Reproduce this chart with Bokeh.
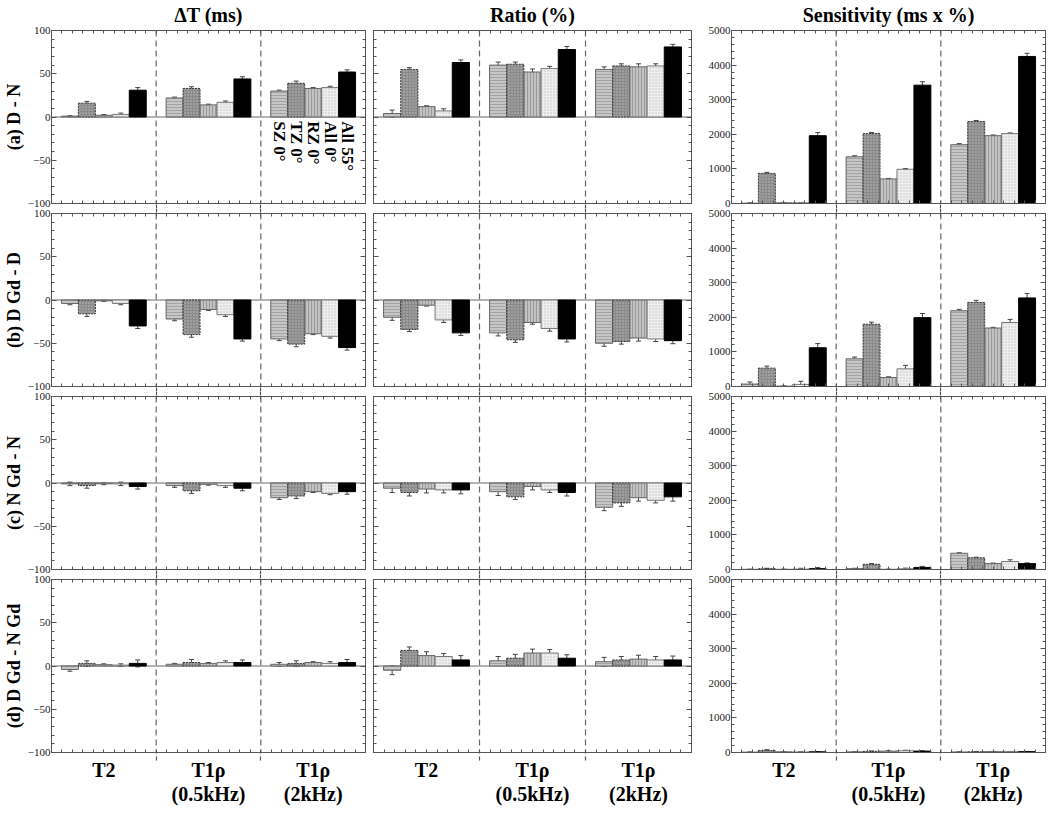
import math
from bokeh.plotting import figure
from bokeh.models import Range1d, LinearAxis, FixedTicker, Span, Whisker, TeeHead, ColumnDataSource
from bokeh.layouts import column, row
from bokeh.embed import file_html
from bokeh.resources import INLINE
from bokeh.core.properties import value

# ---------------- data ----------------
group_labels = {0: "T2", 1: "T1ρ\n(0.5kHz)", 2: "T1ρ\n(2kHz)"}
series = ["SZ 0°", "TZ 0°", "RZ 0°", "All 0°", "All 55°"]
row_labels = ["(a) D - N", "(b) D Gd - D", "(c) N Gd - N", "(d) D Gd - N Gd"]
col_titles = ["ΔT (ms)", "Ratio (%)", "Sensitivity (ms x %)"]

# each list: [T2, T1rho 0.5kHz, T1rho 2kHz] x [SZ0, TZ0, RZ0, All0, All55]
dt_a = [[1, 16, 2, 3, 31], [22, 33, 14, 17, 44], [30, 39, 33, 34, 52]]
dt_a_err = [[0.5, 2, 0.8, 1.5, 3], [1, 2, 0.8, 1.5, 2.5], [1, 2.5, 1, 1.5, 2.5]]
ratio_a = [[4, 55, 12, 7, 63], [60, 61, 52, 56, 78], [55, 59, 58, 59, 81]]
ratio_a_err = [[4, 2, 1, 2.5, 3], [3.5, 2.5, 3.5, 2.5, 3.5], [3, 2.5, 3.5, 2.5, 3]]
sens_a = [[10, 870, 20, 20, 1960], [1350, 2020, 710, 990, 3420], [1700, 2370, 1960, 2020, 4250]]
sens_a_err = [[10, 30, 5, 5, 90], [30, 30, 15, 20, 100], [30, 30, 20, 20, 90]]

dt_b = [[-4, -16, -1, -4, -30], [-22, -40, -11, -17, -45], [-45, -51, -39, -42, -55]]
dt_b_err = [[1.5, 3, 0.5, 1.5, 3], [2, 3, 1, 2, 2.5], [2, 3, 1, 2, 3]]
ratio_b = [[-20, -34, -6, -23, -38], [-38, -46, -26, -33, -45], [-50, -48, -44, -45, -47]]
ratio_b_err = [[3.5, 2.5, 1, 3, 3], [3.5, 3, 2, 3, 3.5], [3.5, 3, 3.5, 3, 3.5]]
sens_b = [[70, 530, 10, 60, 1120], [800, 1800, 260, 510, 1990], [2190, 2430, 1690, 1850, 2560]]
sens_b_err = [[60, 60, 5, 90, 120], [50, 60, 20, 100, 120], [40, 60, 20, 90, 130]]

dt_c = [[-1, -3, -1, -1, -4], [-3, -9, -1.5, -3, -6], [-17, -15, -10, -12, -10]]
dt_c_err = [[2, 3, 1, 2, 3], [2, 3, 1, 2, 3], [2, 3, 1, 1.5, 3]]
ratio_c = [[-6, -11, -7, -8, -8], [-10, -16, -4, -8, -11], [-28, -23, -17, -20, -16]]
ratio_c_err = [[5, 4, 4.5, 3.5, 4.5], [4.5, 3, 4, 3, 4], [4, 4, 4, 3, 5]]
sens_c = [[5, 25, 5, 10, 25], [25, 150, 5, 20, 60], [470, 340, 170, 230, 170]]
sens_c_err = [[5, 10, 5, 25, 30], [10, 20, 5, 20, 30], [15, 15, 15, 50, 20]]

dt_d = [[-4, 3, 1.5, 1, 3], [2, 4, 3, 4, 4], [2, 3, 4, 3, 4]]
dt_d_err = [[2, 3, 1, 1.5, 4], [1, 3.5, 1, 2, 3], [2, 3, 1, 2, 3.5]]
ratio_d = [[-5, 18, 12, 11, 7], [6, 9, 15, 15, 9], [5, 7, 8, 7, 7]]
ratio_d_err = [[5, 4, 4.5, 3.5, 5], [5, 4.5, 4.5, 4, 4], [5, 4, 4.5, 4, 4.5]]
sens_d = [[10, 60, 20, 15, 20], [20, 35, 40, 50, 40], [15, 20, 25, 25, 25]]
sens_d_err = [[5, 20, 5, 5, 5], [5, 10, 10, 15, 10], [5, 5, 5, 5, 5]]

panels = [
    [(dt_a, dt_a_err), (ratio_a, ratio_a_err), (sens_a, sens_a_err)],
    [(dt_b, dt_b_err), (ratio_b, ratio_b_err), (sens_b, sens_b_err)],
    [(dt_c, dt_c_err), (ratio_c, ratio_c_err), (sens_c, sens_c_err)],
    [(dt_d, dt_d_err), (ratio_d, ratio_d_err), (sens_d, sens_d_err)],
]

# ---------------- styles ----------------
SERIF = "Liberation Serif"
AX = "#555555"
BW = 0.162
offsets = [-2 * BW, -BW, 0, BW, 2 * BW]
styles = [
    dict(fill_color="#c6c6c6", hatch_pattern="horizontal_line", hatch_color="#9a9a9a", hatch_scale=3, hatch_weight=0.8, line_color="#666666"),
    dict(fill_color="#8a8a8a", hatch_pattern="dot", hatch_color="#bdbdbd", hatch_scale=3, hatch_weight=0.8, line_color="#333333", line_dash="2 1"),
    dict(fill_color="#c2c2c2", hatch_pattern="vertical_line", hatch_color="#8f8f8f", hatch_scale=3, hatch_weight=0.8, line_color="#666666"),
    dict(fill_color="#efefef", hatch_pattern="dot", hatch_color="#c2c2c2", hatch_scale=3, hatch_weight=0.8, line_color="#777777"),
    dict(fill_color="#000000", line_color="#000000"),
]

FH = 173
FW = [314, 318, 314]
MBL = [36, 4, 36]
MBR = [4, 4, 2]
x_minor = [round(-0.5 + 0.1 * k, 3) for k in range(31)]


def tick_style(ax, ticks, labels=True):
    ax.axis_line_color = AX
    ax.major_tick_line_color = AX
    ax.minor_tick_line_color = AX
    ax.major_tick_in = 5
    ax.major_tick_out = 0
    ax.minor_tick_in = 3
    ax.minor_tick_out = 0
    ax.major_label_text_font = SERIF
    ax.major_label_text_color = "#222222"
    ax.major_label_text_font_size = "11px"
    if labels:
        ax.major_label_standoff = 1
    else:
        ax.major_label_standoff = 0
        ax.major_label_overrides = {t: "" for t in ticks}


def make_panel(r, c):
    vals, errs = panels[r][c]
    if c < 2:
        yr = Range1d(-100, 100)
        yticks = [-100, -50, 0, 50, 100]
        yt = FixedTicker(ticks=yticks, minor_ticks=list(range(-100, 101, 10)))
    else:
        yr = Range1d(0, 5000)
        yticks = [0, 1000, 2000, 3000, 4000, 5000]
        yt = FixedTicker(ticks=yticks, minor_ticks=list(range(0, 5001, 200)))
    p = figure(frame_width=FW[c], frame_height=FH, x_range=Range1d(-0.5, 2.5), y_range=yr,
               output_backend="svg", toolbar_location=None,
               x_axis_location=None, y_axis_location=None,
               min_border_left=MBL[c], min_border_right=MBR[c],
               min_border_top=24 if r == 0 else 5, min_border_bottom=5)
    p.grid.visible = False
    p.outline_line_color = AX
    p.background_fill_color = "white"
    p.border_fill_color = "white"

    # left axis
    la = LinearAxis(ticker=yt)
    tick_style(la, yticks, labels=(c != 1))
    if c == 0:
        la.axis_label = row_labels[r]
        la.axis_label_text_font = SERIF
        la.axis_label_text_font_style = "bold"
        la.axis_label_text_font_size = "18px"
        la.axis_label_text_color = "black"
        la.axis_label_standoff = 1
    p.add_layout(la, "left")
    # right mirror axis
    ra = LinearAxis(ticker=yt)
    tick_style(ra, yticks, labels=False)
    p.add_layout(ra, "right")
    # top axis
    ta = LinearAxis(ticker=FixedTicker(ticks=[0.5, 1.5], minor_ticks=x_minor))
    tick_style(ta, [0.5, 1.5], labels=False)
    ta.major_tick_in = 0
    ta.major_tick_out = 0 if r == 0 else 5
    ta.major_tick_line_dash = "4 3"
    ta.major_tick_line_width = 1.2
    if r == 0:
        ta.axis_label = col_titles[c]
        ta.axis_label_text_font = SERIF
        ta.axis_label_text_font_style = "bold"
        ta.axis_label_text_font_size = "20px"
        ta.axis_label_text_color = "black"
        ta.axis_label_standoff = 5
    p.add_layout(ta, "above")
    # bottom axis
    ba = LinearAxis(ticker=FixedTicker(ticks=[0.5, 1.5], minor_ticks=x_minor))
    tick_style(ba, [0.5, 1.5], labels=False)
    ba.major_tick_in = 0
    ba.major_tick_out = 5 if r < 3 else 8
    ba.major_tick_line_dash = "4 3"
    ba.major_tick_line_width = 1.2
    p.add_layout(ba, "below")
    if r == 3:
        ga = LinearAxis(ticker=FixedTicker(ticks=[0, 1, 2]), major_label_overrides=group_labels)
        ga.axis_line_color = None
        ga.major_tick_line_color = None
        ga.minor_tick_line_color = None
        ga.major_tick_in = 0
        ga.major_tick_out = 0
        ga.major_label_text_font = SERIF
        ga.major_label_text_font_style = "bold"
        ga.major_label_text_font_size = "20px"
        ga.major_label_text_color = "black"
        ga.major_label_text_line_height = 1.1
        ga.major_label_standoff = -2
        p.add_layout(ga, "below")

    # separators and zero line
    for xs in (0.5, 1.5):
        p.add_layout(Span(location=xs, dimension="height", line_color="#666666",
                          line_dash="6 4", line_width=1.2, level="underlay"))
    if c < 2:
        p.add_layout(Span(location=0, dimension="width", line_color="#9a9a9a", line_width=1.5, level="underlay"))

    # bars
    for k in range(5):
        xs = [g + offsets[k] for g in range(3)]
        tops = [vals[g][k] for g in range(3)]
        e = [errs[g][k] for g in range(3)]
        src = ColumnDataSource(dict(x=xs, top=tops, upper=[t + d for t, d in zip(tops, e)],
                                    lower=[t - d for t, d in zip(tops, e)]))
        p.vbar(x="x", top="top", bottom=0, width=BW, source=src, line_width=1, **styles[k])
        p.add_layout(Whisker(base="x", upper="upper", lower="lower", source=src,
                             line_color="#444444", line_width=1,
                             upper_head=TeeHead(size=5, line_color="#444444", line_width=1),
                             lower_head=TeeHead(size=5, line_color="#444444", line_width=1)))

    if r == 0 and c == 0:
        p.text(x=[2 + o for o in offsets], y=[-5] * 5, text=series, angle=-math.pi / 2,
               text_align="left", text_baseline="middle", text_font=value(SERIF),
               text_font_style="bold", text_font_size="17px", text_color="black")
    return p


rows = []
for r in range(4):
    rows.append(row(*[make_panel(r, c) for c in range(3)]))
layout = column(*rows)

open("out.html", "w").write(file_html(layout, INLINE))
